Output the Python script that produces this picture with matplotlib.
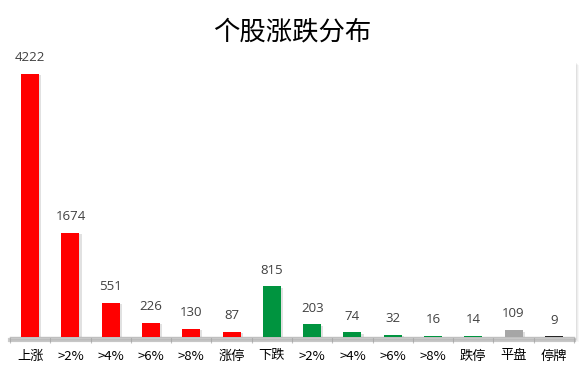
import matplotlib
matplotlib.use('Agg')
import matplotlib.pyplot as plt
import matplotlib.patheffects as pe
from matplotlib.patches import Rectangle

plt.rcParams['font.family'] = ['Noto Sans CJK SC', 'DejaVu Sans']

# 数据
categories = ['上涨', '>2%', '>4%', '>6%', '>8%', '涨停', '下跌', '>2%', '>4%', '>6%', '>8%', '跌停', '平盘', '停牌']
values = [4222, 1674, 551, 226, 130, 87, 815, 203, 74, 32, 16, 14, 109, 9]
colors = ['#FF0000'] * 6 + ['#00943F'] * 6 + ['#A6A6A6', '#262626']

fig = plt.figure(figsize=(5.84, 3.71), dpi=100)
fig.patch.set_facecolor('white')

# 绘图区背景阴影
left, bottom, width, height = 10/584, 1 - 337/371, 564/584, 275/371
for i, a in enumerate([0.05, 0.04, 0.03]):
    d = (i + 1) / 584
    fig.patches.append(Rectangle((left - 2/584 + d, bottom - 2/371 - d * 584/371), width + 4/584, height + 2/371,
                                 transform=fig.transFigure, facecolor='black', alpha=a, edgecolor='none', zorder=-3))
fig.patches.append(Rectangle((left - 2/584, bottom - 2/371), width + 4/584, height + 2/371,
                             transform=fig.transFigure, facecolor='white', edgecolor='none', zorder=-2))

ax = fig.add_axes([left, bottom, width, height])
ax.patch.set_alpha(0)

x = list(range(len(categories)))
bars = ax.bar(x, values, width=0.45, color=colors, zorder=3)
for b in bars:
    b.set_path_effects([pe.SimplePatchShadow(offset=(1.5, -1), shadow_rgbFace='#888888', alpha=0.25), pe.Normal()])

for xi, v in zip(x, values):
    ax.annotate(str(v), (xi, v), xytext=(0, 7), textcoords='offset points',
                ha='center', va='bottom', fontsize=9.5, color='#404040', family=['Open Sans', 'DejaVu Sans'],
                annotation_clip=False)

ax.set_xlim(-0.5, len(categories) - 0.5)
ax.set_ylim(0, 4415)
ax.set_yticks([])

ax.set_xticks([i + 0.5 for i in range(-1, len(categories))], minor=False)
ax.set_xticklabels([])
ax.set_xticks(x, minor=True)
ax.set_xticklabels(categories, minor=True, fontsize=9.5, color='black')
ax.tick_params(axis='x', which='major', direction='out', length=4, color='#BFBFBF', width=0.8)
ax.tick_params(axis='x', which='minor', length=0, pad=9)

for s in ['top', 'right', 'left']:
    ax.spines[s].set_visible(False)
ax.spines['bottom'].set_color('#BFBFBF')
ax.spines['bottom'].set_linewidth(1.0)
ax.spines['bottom'].set_path_effects([pe.SimpleLineShadow(offset=(0, -2), shadow_color='#999999', alpha=0.5, linewidth=3), pe.Normal()])

fig.text(0.5, 1 - 32/371, '个股涨跌分布', ha='center', va='center', fontsize=19, color='black')

fig.savefig('out.png', dpi=100)
